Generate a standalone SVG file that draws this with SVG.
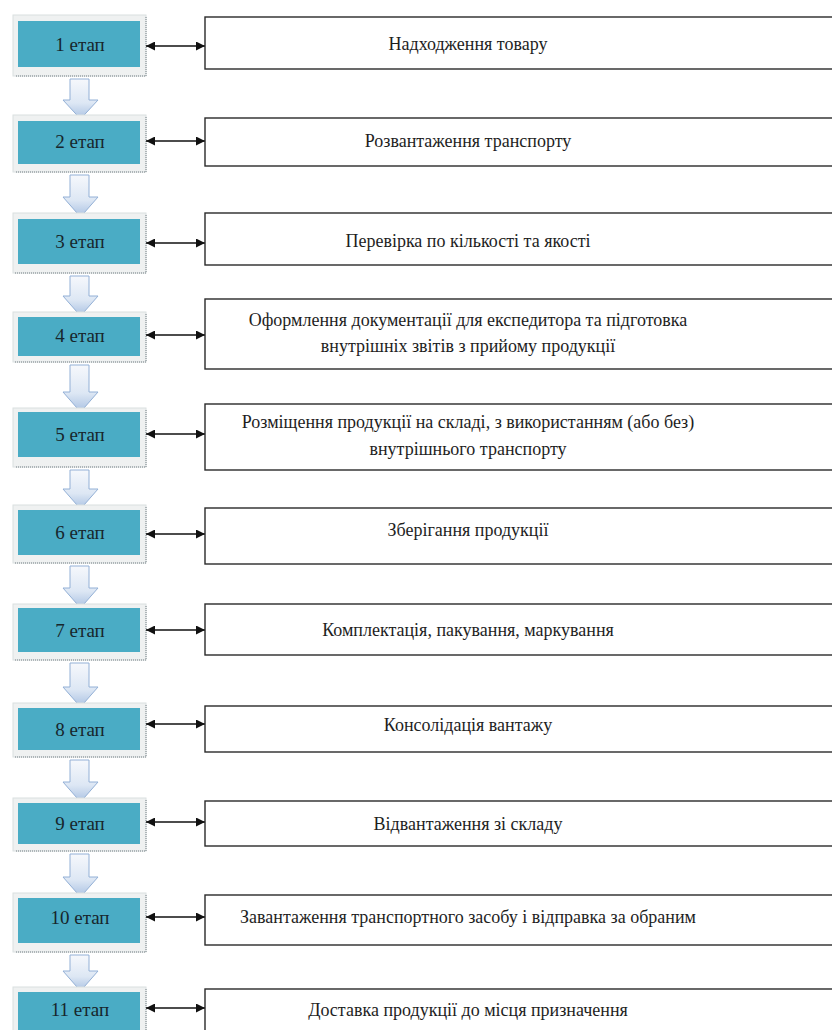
<svg xmlns="http://www.w3.org/2000/svg" width="832" height="1030" viewBox="0 0 832 1030">
<defs>
<style>
.frame{fill:#eff1f1;stroke:#dadfe0;stroke-width:1}
.shadow{fill:none;stroke:#9aa4a8;stroke-width:1.5;stroke-dasharray:1 1}
.teal{fill:#4aacc5}
.stg{font-family:'Liberation Serif',serif;font-size:19px;fill:#17262c;text-anchor:middle}
.box{fill:#fff;stroke:#2a2a2a;stroke-width:1.4}
.txt{font-family:'Liberation Serif',serif;font-size:18px;fill:#1e1e1e;text-anchor:middle}
.link{stroke:#111;stroke-width:1.3;fill:none;marker-start:url(#ah);marker-end:url(#ah)}
.down{fill:url(#dg);stroke:#93b0d6;stroke-width:1}
</style>
<marker id="ah" viewBox="0 0 10 10" refX="10" refY="5" markerWidth="10" markerHeight="9" markerUnits="userSpaceOnUse" orient="auto-start-reverse">
<path d="M0,0 L10,5 L0,10 z" fill="#111"/>
</marker>
<linearGradient id="dg" x1="0" y1="0" x2="0" y2="1">
<stop offset="0" stop-color="#f6f8fc"/>
<stop offset="0.6" stop-color="#dde7f4"/>
<stop offset="1" stop-color="#a9c1e2"/>
</linearGradient>
</defs>
<rect width="832" height="1030" fill="#fff"/>

<g id="flow-arrows">
<path class="down" d="M70,79 H89 V100 H98 L80.5,119 L63,100 H70 Z"/>
<path class="down" d="M70,175 H89 V197 H98 L80.5,217 L63,197 H70 Z"/>
<path class="down" d="M70,276 H89 V296 H98 L80.5,316 L63,296 H70 Z"/>
<path class="down" d="M70,365 H89 V392 H98 L80.5,412 L63,392 H70 Z"/>
<path class="down" d="M70,470 H89 V489 H98 L80.5,509 L63,489 H70 Z"/>
<path class="down" d="M70,566 H89 V588 H98 L80.5,608 L63,588 H70 Z"/>
<path class="down" d="M70,663 H89 V687 H98 L80.5,707 L63,687 H70 Z"/>
<path class="down" d="M70,760 H89 V782 H98 L80.5,802 L63,782 H70 Z"/>
<path class="down" d="M70,854 H89 V877 H98 L80.5,897 L63,877 H70 Z"/>
<path class="down" d="M70,955 H89 V971 H98 L80.5,991 L63,971 H70 Z"/>
</g>

<g id="stage1"><rect class="frame" x="13" y="15" width="133" height="61"/><path class="shadow" d="M146,17 V76 H15"/><rect class="teal" x="18" y="21" width="122" height="46"/><text class="stg" x="80" y="51">1 етап</text></g>
<g id="stage2"><rect class="frame" x="13" y="115" width="133" height="57"/><path class="shadow" d="M146,117 V172 H15"/><rect class="teal" x="18" y="121" width="122" height="43"/><text class="stg" x="80" y="148">2 етап</text></g>
<g id="stage3"><rect class="frame" x="13" y="213" width="133" height="60"/><path class="shadow" d="M146,215 V273 H15"/><rect class="teal" x="18" y="219" width="122" height="45"/><text class="stg" x="80" y="248">3 етап</text></g>
<g id="stage4"><rect class="frame" x="13" y="312" width="133" height="50"/><path class="shadow" d="M146,314 V362 H15"/><rect class="teal" x="18" y="317" width="122" height="39"/><text class="stg" x="80" y="342">4 етап</text></g>
<g id="stage5"><rect class="frame" x="13" y="408" width="133" height="59"/><path class="shadow" d="M146,410 V467 H15"/><rect class="teal" x="18" y="412" width="122" height="45"/><text class="stg" x="80" y="441">5 етап</text></g>
<g id="stage6"><rect class="frame" x="13" y="505" width="133" height="58"/><path class="shadow" d="M146,507 V563 H15"/><rect class="teal" x="18" y="510" width="122" height="45"/><text class="stg" x="80" y="539">6 етап</text></g>
<g id="stage7"><rect class="frame" x="13" y="604" width="133" height="56"/><path class="shadow" d="M146,606 V660 H15"/><rect class="teal" x="18" y="608" width="122" height="44"/><text class="stg" x="80" y="637">7 етап</text></g>
<g id="stage8"><rect class="frame" x="13" y="703" width="133" height="54"/><path class="shadow" d="M146,705 V757 H15"/><rect class="teal" x="18" y="708" width="122" height="42"/><text class="stg" x="80" y="736">8 етап</text></g>
<g id="stage9"><rect class="frame" x="13" y="798" width="133" height="53"/><path class="shadow" d="M146,800 V851 H15"/><rect class="teal" x="18" y="803" width="122" height="41"/><text class="stg" x="80" y="830">9 етап</text></g>
<g id="stage10"><rect class="frame" x="13" y="893" width="133" height="59"/><path class="shadow" d="M146,895 V952 H15"/><rect class="teal" x="18" y="898" width="122" height="45"/><text class="stg" x="80" y="924">10 етап</text></g>
<g id="stage11"><rect class="frame" x="13" y="987" width="133" height="60"/><path class="shadow" d="M146,989 V1047"/><rect class="teal" x="18" y="992" width="122" height="50"/><text class="stg" x="80" y="1016">11 етап</text></g>

<g id="connectors">
<line class="link" x1="146" y1="46" x2="205" y2="46"/>
<line class="link" x1="146" y1="141" x2="205" y2="141"/>
<line class="link" x1="146" y1="243" x2="205" y2="243"/>
<line class="link" x1="146" y1="335" x2="205" y2="335"/>
<line class="link" x1="146" y1="434" x2="205" y2="434"/>
<line class="link" x1="146" y1="534" x2="205" y2="534"/>
<line class="link" x1="146" y1="630" x2="205" y2="630"/>
<line class="link" x1="146" y1="724" x2="205" y2="724"/>
<line class="link" x1="146" y1="822" x2="205" y2="822"/>
<line class="link" x1="146" y1="917" x2="205" y2="917"/>
<line class="link" x1="146" y1="1008" x2="205" y2="1008"/>
</g>

<g id="box1"><rect class="box" x="205" y="17" width="640" height="52"/><text class="txt" x="468" y="50">Надходження товару</text></g>
<g id="box2"><rect class="box" x="205" y="118" width="640" height="48"/><text class="txt" x="468" y="147">Розвантаження транспорту</text></g>
<g id="box3"><rect class="box" x="205" y="213" width="640" height="52"/><text class="txt" x="468" y="247">Перевірка по кількості та якості</text></g>
<g id="box4"><rect class="box" x="205" y="299" width="640" height="70"/><text class="txt" x="468" y="326">Оформлення документації для експедитора та підготовка</text><text class="txt" x="468" y="352">внутрішніх звітів з прийому продукції</text></g>
<g id="box5"><rect class="box" x="205" y="404" width="640" height="66"/><text class="txt" x="468" y="428">Розміщення продукції на складі, з використанням (або без)</text><text class="txt" x="468" y="455">внутрішнього транспорту</text></g>
<g id="box6"><rect class="box" x="205" y="508" width="640" height="56"/><text class="txt" x="468" y="536">Зберігання продукції</text></g>
<g id="box7"><rect class="box" x="205" y="604" width="640" height="51"/><text class="txt" x="468" y="636">Комплектація, пакування, маркування</text></g>
<g id="box8"><rect class="box" x="205" y="706" width="640" height="46"/><text class="txt" x="468" y="731">Консолідація вантажу</text></g>
<g id="box9"><rect class="box" x="205" y="801" width="640" height="45"/><text class="txt" x="468" y="830">Відвантаження зі складу</text></g>
<g id="box10"><rect class="box" x="205" y="895" width="640" height="50"/><text class="txt" x="468" y="923">Завантаження транспортного засобу і відправка за обраним</text></g>
<g id="box11"><rect class="box" x="205" y="989" width="640" height="60"/><text class="txt" x="468" y="1016">Доставка продукції до місця призначення</text></g>
</svg>
